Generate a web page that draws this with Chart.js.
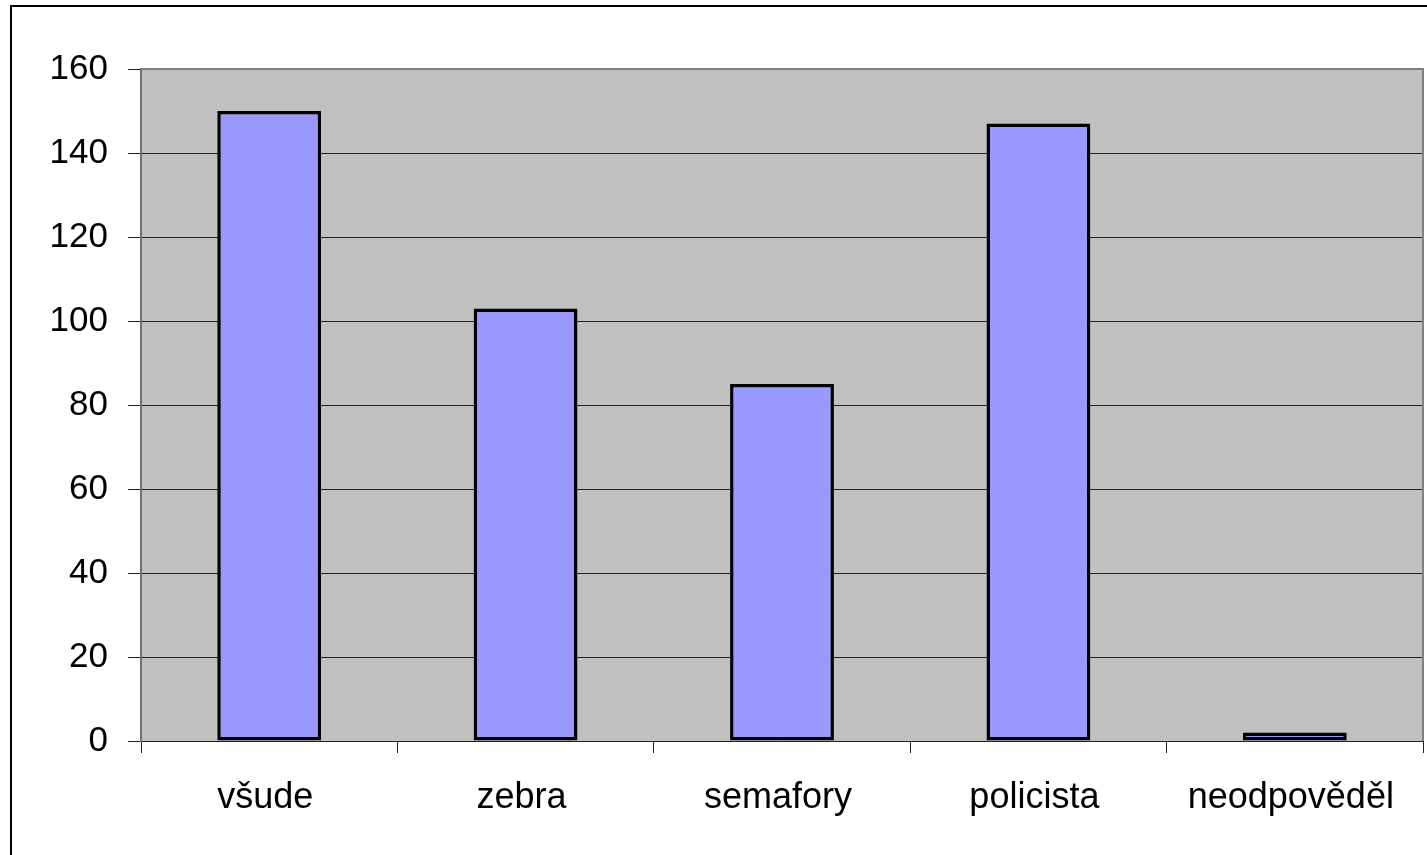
<!DOCTYPE html>
<html>
<head>
<meta charset="utf-8">
<script src="https://cdn.jsdelivr.net/npm/chart.js@4"></script>
<style>
  html, body { margin: 0; padding: 0; background: #fff; }
  #wrap { width: 1427px; height: 855px; position: relative; }
</style>
</head>
<body>
<div id="wrap"><canvas id="graf" width="1427" height="855"></canvas></div>
<script>
// dados do gráfico
const kategorie = ["všude", "zebra", "semafory", "policista", "neodpověděl"];
const hodnoty = [150, 103, 85, 147, 2];
const osaY = { min: 0, max: 160, krok: 20 };

// fundo cinza da área do gráfico + moldura externa
const pozadi = {
  id: "pozadi",
  beforeDraw(chart) {
    const { ctx, chartArea: a } = chart;
    ctx.save();
    // moldura externa
    ctx.strokeStyle = "#000";
    ctx.lineWidth = 2;
    ctx.strokeRect(11, 6, 1430, 870);
    // área cinza
    ctx.fillStyle = "#c0c0c0";
    ctx.fillRect(a.left, a.top, a.right - a.left, a.bottom - a.top);
    ctx.restore();
  },
  afterDatasetsDraw(chart) {
    const { ctx, chartArea: a } = chart;
    ctx.save();
    ctx.strokeStyle = "#808080";
    ctx.lineWidth = 2;
    ctx.beginPath();
    ctx.moveTo(a.left, a.top);
    ctx.lineTo(a.right, a.top);
    ctx.lineTo(a.right, a.bottom);
    ctx.stroke();
    ctx.restore();
  }
};

new Chart(document.getElementById("graf"), {
  type: "bar",
  data: {
    labels: kategorie,
    datasets: [{
      data: hodnoty,
      backgroundColor: "#9999ff",
      borderColor: "#000",
      borderWidth: 3.5,
      borderSkipped: false,
      barPercentage: 0.405,
      categoryPercentage: 1
    }]
  },
  options: {
    responsive: false,
    animation: false,
    layout: { padding: { left: 0, top: 69, right: 4, bottom: 0 } },
    plugins: { legend: { display: false }, tooltip: { enabled: false } },
    scales: {
      x: {
        offset: true,
        grid: { offset: true, drawOnChartArea: false, drawTicks: true, tickLength: 12, color: "#222", lineWidth: 1 },
        border: { color: "#222", width: 1 },
        ticks: { color: "#000", font: { family: "Liberation Sans, Arial, sans-serif", size: 36 }, padding: 23, maxRotation: 0, labelOffset: -4 },
        afterFit(s) { s.height = 114; }
      },
      y: {
        min: osaY.min,
        max: osaY.max,
        grid: { color: "#222", lineWidth: 1, tickLength: 13 },
        border: { color: "#707070", width: 2 },
        ticks: { stepSize: osaY.krok, color: "#000", font: { family: "Liberation Sans, Arial, sans-serif", size: 35 }, padding: 20 },
        afterFit(s) { s.width = 141; }
      }
    }
  },
  plugins: [pozadi]
});
</script>
</body>
</html>
